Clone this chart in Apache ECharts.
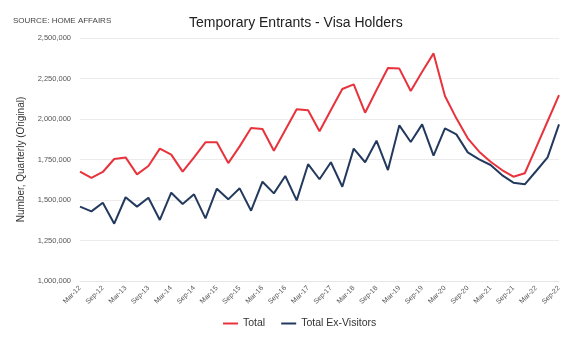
<!DOCTYPE html>
<html><head><meta charset="utf-8">
<script src="https://cdn.jsdelivr.net/npm/echarts@6/dist/echarts.min.js"></script>
<style>html,body{margin:0;padding:0;background:#fff}#c{width:572px;height:337px}</style>
</head><body><div id="c"></div>
<script>
const years = ['12','13','14','15','16','17','18','19','20','21','22'];
const quarters = ['Mar','Jun','Sep','Dec'];
const categories = [];
years.forEach(y => quarters.forEach(q => categories.push(q + '-' + y)));
categories.length = 43; // Mar-12 .. Sep-22

const total = [1675000,1636000,1673000,1753000,1763000,1658000,1710000,1817000,1780000,1675000,
  1763000,1856000,1856000,1728000,1831000,1944000,1938000,1804000,1932000,2060000,
  2054000,1924000,2056000,2185000,2214000,2039000,2179000,2315000,2311000,2173000,
  2292000,2405000,2142000,2004000,1881000,1798000,1736000,1685000,1644000,1665000,
  1825000,1986000,2148000];
const exVisitors = [1459000,1430000,1483000,1354000,1517000,1459000,1514000,1377000,1545000,1475000,
  1535000,1387000,1570000,1504000,1572000,1434000,1613000,1541000,1648000,1498000,
  1721000,1628000,1733000,1582000,1817000,1733000,1866000,1685000,1961000,1858000,
  1967000,1774000,1942000,1905000,1794000,1751000,1716000,1654000,1607000,1597000,
  1679000,1763000,1967000];

const chart = echarts.init(document.getElementById('c'), null, {renderer:'canvas'});
chart.setOption({
  animation:false,
  backgroundColor:'#fff',
  title:[
    {text:'Temporary Entrants - Visa Holders', left:184, top:11,
     textStyle:{fontFamily:'Liberation Sans', fontSize:14, fontWeight:'normal', color:'#222'}},
    {text:'SOURCE: HOME AFFAIRS', left:8, top:12,
     textStyle:{fontFamily:'Liberation Sans', fontSize:8, fontWeight:'normal', color:'#444'}}
  ],
  grid:{left:80, right:13, top:38, bottom:56},
  legend:{bottom:3, left:218, itemWidth:15, itemHeight:2, itemGap:16, icon:'rect',
    textStyle:{fontFamily:'Liberation Sans', fontSize:10.5, color:'#333'},
    data:['Total','Total Ex-Visitors']},
  xAxis:{type:'category', data:categories, boundaryGap:false,
    axisLine:{show:true, lineStyle:{color:'#e6e6e6'}}, axisTick:{show:false},
    axisLabel:{interval:1, rotate:45, fontFamily:'Liberation Sans', fontSize:7, color:'#555', margin:6}},
  yAxis:{type:'value', min:1000000, max:2500000, interval:250000,
    name:'Number, Quarterly (Original)', nameLocation:'middle', nameGap:53, nameRotate:90,
    nameTextStyle:{fontFamily:'Liberation Sans', fontSize:10, color:'#333'},
    axisLine:{show:false}, axisTick:{show:false},
    splitLine:{lineStyle:{color:'#ececec'}},
    axisLabel:{fontFamily:'Liberation Sans', fontSize:7.5, color:'#555', margin:9,
      formatter:v => v.toLocaleString('en-US')}},
  series:[
    {name:'Total', type:'line', data:total, symbol:'none', lineStyle:{color:'#e8323c', width:2}, itemStyle:{color:'#e8323c'}},
    {name:'Total Ex-Visitors', type:'line', data:exVisitors, symbol:'none', lineStyle:{color:'#233a5e', width:2}, itemStyle:{color:'#233a5e'}}
  ]
});
</script></body></html>
